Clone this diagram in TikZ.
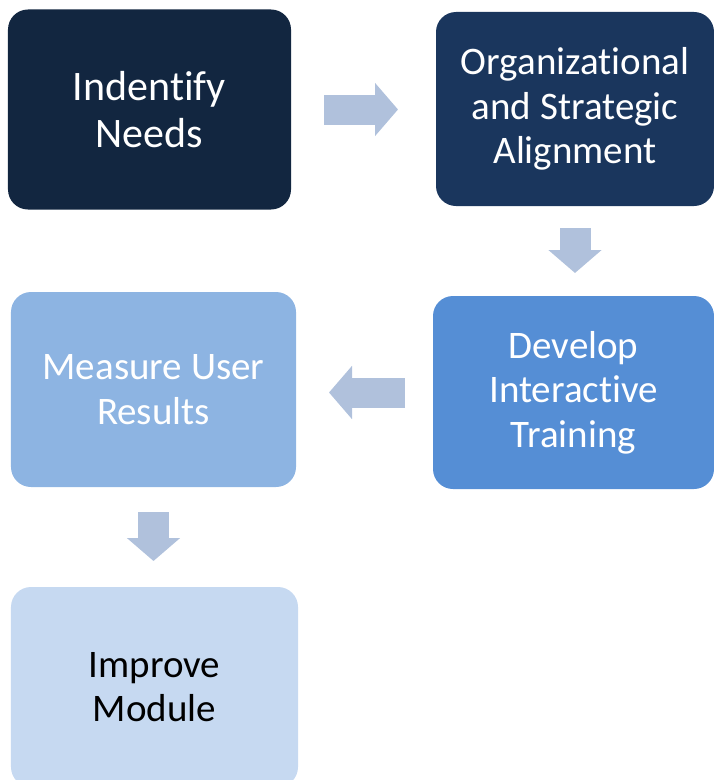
\documentclass[tikz,border=0pt]{standalone}
\usepackage{fontspec}
\setmainfont{Carlito}[RawFeature={-liga;-clig;-calt;-dlig}]
\usetikzlibrary{arrows.meta}
\definecolor{needscol}{RGB}{18,38,64}
\definecolor{aligncol}{RGB}{26,54,93}
\definecolor{developcol}{RGB}{85,142,213}
\definecolor{measurecol}{RGB}{141,180,226}
\definecolor{improvecol}{RGB}{198,217,241}
\definecolor{arrowcol}{RGB}{176,193,220}
\begin{document}
\begin{tikzpicture}[x=1bp,y=-1bp,
  stepbox/.style={rounded corners=20bp,outer sep=0pt,align=center,text=white,
    font=\fontsize{39bp}{44.5bp}\selectfont},
  blockarrow/.style={draw=arrowcol,line width=31bp,
    -{Triangle[width=52bp,length=23bp,fill=arrowcol]}},
]
\useasboundingbox (0,0) rectangle (714,780);
\clip (0,0) rectangle (714,780);
  % Node: needs
  \node[stepbox,fill=needscol,minimum width=283bp,minimum height=200bp,
    font=\fontsize{42bp}{47bp}\selectfont] (needs) at (149.5,109.5) {Indentify\\Needs};
  % Node: align
  \node[stepbox,fill=aligncol,minimum width=278bp,minimum height=194bp] (align) at (575,109) {Organizational\\and Strategic\\Alignment};
  % Node: develop
  \node[stepbox,fill=developcol,minimum width=281bp,minimum height=193bp] (develop) at (573.5,392.5) {Develop\\Interactive\\Training};
  % Node: measure
  \node[stepbox,fill=measurecol,minimum width=285bp,minimum height=195bp] (measure) at (153.5,389.5) {Measure User\\Results};
  % Node: improve
  \node[stepbox,fill=improvecol,minimum width=287bp,minimum height=200bp,text=black] (improve) at (154.5,687) {Improve\\Module};
  % Edge: needs -> align
  \draw[blockarrow,line width=30bp,shorten <=33bp,shorten >=38bp] (needs.east) -- (needs.east -| align.west);
  % Edge: align -> develop
  \draw[blockarrow,shorten <=22bp,shorten >=23bp] (align.south) -- (align.south |- develop.north);
  % Edge: develop -> measure
  \draw[blockarrow,line width=30bp,shorten <=28bp,shorten >=33bp] (develop.west) -- (develop.west -| measure.east);
  % Edge: measure -> improve
  \draw[blockarrow,shorten <=25bp,shorten >=26bp] (measure.south) -- (measure.south |- improve.north);
\end{tikzpicture}
\end{document}
